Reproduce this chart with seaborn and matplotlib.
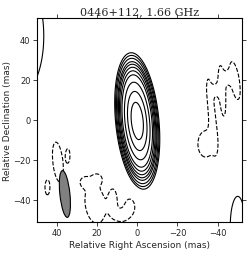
import numpy as np
import matplotlib
matplotlib.use("Agg")
import matplotlib.pyplot as plt
import seaborn as sns
from matplotlib.patches import Ellipse

# ---- data: Gaussian model components (RA mas, Dec mas, amplitude %, sigma_major, sigma_minor, PA deg)
# main source (drawn with all contour levels)
core_ra, core_dec, core_amp = 0.0, -0.5, 100.0
core_smaj, core_smin, core_pa = 14.0, 4.4, 5.5

# faint structure / noise features (lowest contour only)
feat_ra   = [58.0, -50.0,
             -37.0, -34.0, -42.2, -48.6, -39.2, -45.0,
             39.5, 34.5, 44.7,
             21.0, 26.0, 20.0, 12.0, 3.5, 8.0]
feat_dec  = [42.0, -53.0,
             4.0, -12.0, 14.5, 19.7, 15.0, 21.0,
             -21.0, -17.8, -33.7,
             -42.0, -31.0, -29.5, -40.0, -43.0, -48.0]
feat_amp  = [70.0, 15.0,
             -9.0, -9.0, -9.0, -9.0, -7.0, -7.0,
             -9.0, -9.0, -9.0,
             -9.0, -7.0, -7.0, -8.0, -8.0, -7.0]
feat_smaj = [12.5, 10.0,
             15.0, 6.0, 11.5, 8.8, 2.5, 2.5,
             9.2, 3.0, 3.4,
             9.0, 2.0, 2.0, 5.0, 4.0, 3.0]
feat_smin = [5.0, 2.5,
             1.5, 3.5, 1.5, 2.0, 2.0, 2.0,
             2.3, 0.9, 1.1,
             4.5, 2.0, 2.0, 1.8, 2.5, 3.0]
feat_pa   = [0.0, 0.0,
             6.0, 0.0, 4.0, 9.0, 0.0, 0.0,
             6.0, 0.0, 0.0,
             8.0, 0.0, 0.0, 0.0, 0.0, 0.0]

pos_levels = [5, 6.3, 8, 10.4, 12.6, 15.6, 19.8, 25.4, 38, 57, 80]
neg_levels = [-5]

beam_ra, beam_dec = 36.0, -37.0
beam_maj, beam_min, beam_pa = 23.5, 5.0, 6.0

x_ticks = [40, 20, 0, -20, -40]
y_ticks = [-40, -20, 0, 20, 40]
title = "0446+112, 1.66 GHz"

# ---- build fields
ra = np.linspace(56, -58, 500)
dec = np.linspace(-57, 57, 500)
RA, DEC = np.meshgrid(ra, dec)


def gauss(r0, d0, a0, sm, sn, pa):
    t = np.deg2rad(pa)
    dx, dy = RA - r0, DEC - d0
    u = dx * np.sin(t) + dy * np.cos(t)
    v = dx * np.cos(t) - dy * np.sin(t)
    return a0 * np.exp(-0.5 * (u**2 / sm**2 + v**2 / sn**2))


Z_core = gauss(core_ra, core_dec, core_amp, core_smaj, core_smin, core_pa)
Z_feat = np.zeros_like(RA)
for comp in zip(feat_ra, feat_dec, feat_amp, feat_smaj, feat_smin, feat_pa):
    Z_feat += gauss(*comp)
Z_all = Z_core + Z_feat

sns.set_style("ticks")
plt.rcParams["font.family"] = ["DejaVu Sans"]

fig = plt.figure(figsize=(2.5, 2.55), dpi=100)
ax = fig.add_axes([0.147, 0.1255, 0.82, 0.80])

ax.contour(RA, DEC, Z_all, levels=pos_levels[:1], colors="k", linewidths=0.8, linestyles="solid")
ax.contour(RA, DEC, Z_core, levels=pos_levels[1:], colors="k", linewidths=0.8, linestyles="solid")
ax.contour(RA, DEC, Z_all, levels=neg_levels, colors="k", linewidths=0.8, linestyles="dashed")

ax.add_patch(Ellipse((beam_ra, beam_dec), width=beam_min, height=beam_maj, angle=-beam_pa,
                     facecolor="#808080", edgecolor="k", linewidth=0.8, zorder=3))

ax.set_xlim(50, -52)
ax.set_ylim(-51, 51)
ax.set_xticks(x_ticks)
ax.set_yticks(y_ticks)
ax.tick_params(axis="both", which="both", direction="out", length=3, width=0.6,
               labelsize=6, top=True, right=True, pad=1.5)
for s in ax.spines.values():
    s.set_linewidth(0.8)
    s.set_color("k")

ax.set_xlabel("Relative Right Ascension (mas)", fontsize=6.5, labelpad=2)
ax.set_ylabel("Relative Declination (mas)", fontsize=6.5, labelpad=1)
ax.set_title(title, fontsize=8, family="DejaVu Serif", pad=3)

fig.savefig("out.png", dpi=100)
